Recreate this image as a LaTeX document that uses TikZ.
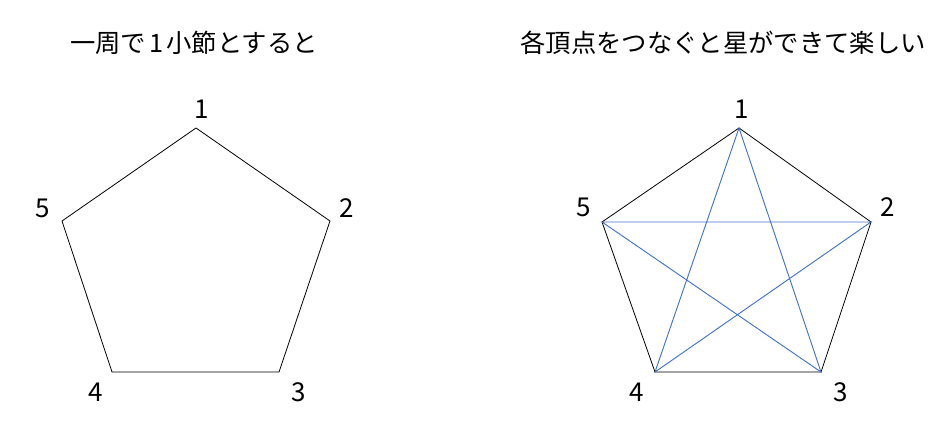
\documentclass[tikz,border=0pt]{standalone}
\usepackage{fontspec}
\setmainfont{Noto Sans CJK JP}
\usepackage{tikz}
\usetikzlibrary{calc}
\definecolor{edge}{HTML}{000000}
\definecolor{star}{HTML}{4472C4}
\tikzset{
  side/.style={draw=edge, line width=0.6pt, line join=round},
  chord/.style={draw=star, line width=0.7pt},
  num/.style={font=\fontsize{19.5}{22}\selectfont, inner sep=0pt},
  ttl/.style={font=\fontsize{19}{22}\selectfont, inner sep=0pt},
}
\begin{document}
\begin{tikzpicture}[x=0.75pt,y=0.75pt]
  \useasboundingbox (0,0) rectangle (939,428);
  % left pentagon
  \coordinate (L1) at (196,300);
  \coordinate (L2) at (330,207);
  \coordinate (L3) at (279,56);
  \coordinate (L4) at (112,56);
  \coordinate (L5) at (62,207);
  % right pentagon
  \coordinate (R1) at (739,300);
  \coordinate (R2) at (871,206);
  \coordinate (R3) at (821,56);
  \coordinate (R4) at (655,56);
  \coordinate (R5) at (602,206);

  \node[ttl] (titleL) at (194,385) {一周で\hspace{0.12em}1\hspace{0.12em}小節とすると};
  \node[ttl] (titleR) at (723,385) {各頂点をつなぐと星ができて楽しい};

  \draw[side] (L1)--(L2)--(L3)--(L4)--(L5)--cycle;
  \node[num] (nL1) at (202,319) {1};
  \node[num] (nL2) at (347,220) {2};
  \node[num] (nL3) at (299,36) {3};
  \node[num] (nL4) at (96,36) {4};
  \node[num] (nL5) at (43,220) {5};

  \draw[side] (R1)--(R2)--(R3)--(R4)--(R5)--cycle;
  \draw[chord] (R1)--(R3)--(R5)--(R2)--(R4)--cycle;
  \node[num] (nR1) at (742,319) {1};
  \node[num] (nR2) at (888,221) {2};
  \node[num] (nR3) at (841,36) {3};
  \node[num] (nR4) at (637,36) {4};
  \node[num] (nR5) at (584,221) {5};
\end{tikzpicture}
\end{document}
